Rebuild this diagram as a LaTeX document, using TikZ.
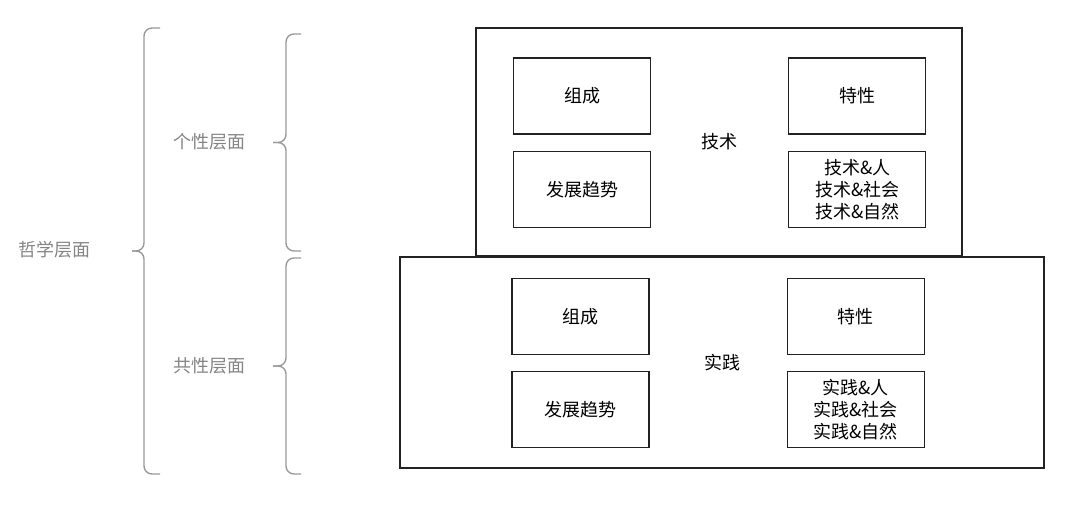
\documentclass[tikz,border=0pt]{standalone}
\usepackage{fontspec}
\setmainfont{Noto Sans CJK SC}
\usepackage{tikz}
\usetikzlibrary{positioning}

\definecolor{braceGrey}{HTML}{9A9A9A}
\definecolor{labelGrey}{HTML}{858585}
\definecolor{lineDark}{HTML}{222222}

\begin{document}
\begin{tikzpicture}
		[
		x=1pt, y=-1pt,
		font=\fontsize{18}{22}\selectfont
		]
		
		% Box styles: outer and inner
		\tikzstyle{outer box}=[draw=lineDark,line width=1.3pt,inner sep=0];
		\tikzstyle{inner box}=[draw=lineDark,line width=1.3pt,inner sep=0,minimum width=137pt,minimum height=76pt,align=center];
		\tikzstyle{grey brace}=[draw=braceGrey,line width=1.4pt,rounded corners=8pt];
		\tikzstyle{level label}=[text=labelGrey];
		
		\useasboundingbox (0,0) rectangle (1080,510);
		
		% Outer boxes
		\node(tech)[outer box,minimum width=486pt,minimum height=228pt] at (719,142){技术};
		\node(prac)[outer box,minimum width=644pt,minimum height=211pt] at (722,362.5){实践};
		
		% Technology
		\node(tech-1)[inner box] at (582,96){组成};
		\node(tech-2)[inner box,below=16pt of tech-1]{发展趋势};
		\node(tech-3)[inner box,right=137pt of tech-1]{特性};
		\node(tech-4)[inner box,below=16pt of tech-3]{技术\&人\\技术\&社会\\技术\&自然};
		
		% Practice
		\node(prac-1)[inner box] at (580.5,316.5){组成};
		\node(prac-2)[inner box,below=16pt of prac-1]{发展趋势};
		\node(prac-3)[inner box,right=137pt of prac-1]{特性};
		\node(prac-4)[inner box,below=16pt of prac-3]{实践\&人\\实践\&社会\\实践\&自然};
		
		% Brace points: top end, bottom end, spine, tip
		\coordinate(all-top) at (160,28);
		\coordinate(all-bot) at (160,474);
		\coordinate(all-mid) at (144,251);
		\coordinate(all-tip) at (132,251);
		\coordinate(ind-top) at (301,34);
		\coordinate(ind-bot) at (301,251);
		\coordinate(ind-mid) at (286,142.5);
		\coordinate(ind-tip) at (273,142.5);
		\coordinate(com-top) at (301,258);
		\coordinate(com-bot) at (301,474);
		\coordinate(com-mid) at (286,366);
		\coordinate(com-tip) at (273,366);
		
		% Braces
		\foreach \b in {all, ind, com}
		{
			\draw[grey brace](\b-top)-|(\b-mid)--(\b-tip);
			\draw[grey brace](\b-bot)-|(\b-mid)--(\b-tip);
		}
		
		% Levels
		\node(phil)[level label] at (55,250){哲学层面};
		\node(ind)[level label] at (209,142){个性层面};
		\node(com)[level label] at (209,366){共性层面};
		
\end{tikzpicture}
\end{document}
